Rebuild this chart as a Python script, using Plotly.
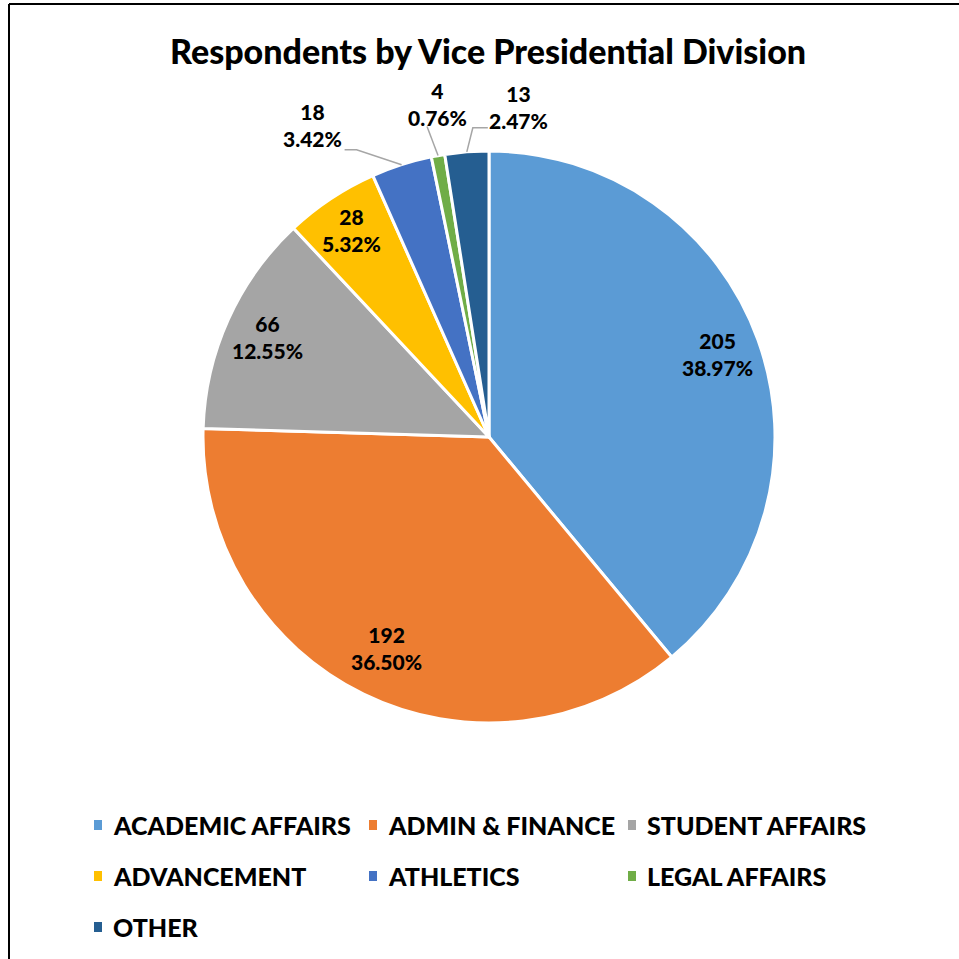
import math
import plotly.graph_objects as go

categories = ["ACADEMIC AFFAIRS", "ADMIN & FINANCE", "STUDENT AFFAIRS", "ADVANCEMENT",
              "ATHLETICS", "LEGAL AFFAIRS", "OTHER"]
counts = [205, 192, 66, 28, 18, 4, 13]
colors = ["#5B9BD5", "#ED7D31", "#A5A5A5", "#FFC000", "#4472C4", "#70AD47", "#255E91"]
title_text = "Respondents by Vice Presidential Division"

W = H = 959
FONT = "Lato, 'Open Sans', sans-serif"
CX, CY, R = 489, 437, 286  # pixel geometry of pie (styling)

def px(x, y):
    return x / W, 1 - y / H

total = sum(counts)
pcts = [c / total * 100 for c in counts]

fig = go.Figure()
x0, y0 = px(CX - R, CY + R)
x1, y1 = px(CX + R, CY - R)
fig.add_trace(go.Pie(
    labels=categories, values=counts, sort=False, direction="clockwise", rotation=0,
    marker=dict(colors=colors, line=dict(color="white", width=3)),
    textinfo="none", hoverinfo="label+value+percent", showlegend=False,
    domain=dict(x=[x0, x1], y=[y0, y1]),
))

# label placement style: inside (radius fraction) or outside (pixel offset + leader path)
inside_frac = {0: 0.85, 1: 0.82, 2: 0.85, 3: 0.87}
outside_style = {
    4: dict(text_off=(-89, -40), path=[(0, 0), (-45, -15), (-57, -15)]),
    5: dict(text_off=(-1, -52), path=[(0, 0), (-11, -29)]),
    6: dict(text_off=(52, -45), path=[(0, 0), (6, -24), (21, -24)]),
}

annotations = []
shapes = []
cum = 0
for i, c in enumerate(counts):
    mid = (cum + c / 2) / total * 2 * math.pi
    cum += c
    txt = f"{c}<br>{pcts[i]:.2f}%"
    if i in inside_frac:
        f = inside_frac[i]
        lx = CX + f * R * math.sin(mid)
        ly = CY - f * R * math.cos(mid)
    else:
        ex = CX + R * math.sin(mid)
        ey = CY - R * math.cos(mid)
        st = outside_style[i]
        lx, ly = ex + st["text_off"][0], ey + st["text_off"][1]
        pts = [px(ex + dx, ey + dy) for dx, dy in st["path"]]
        path = "M " + " L ".join(f"{a:.5f},{b:.5f}" for a, b in pts)
        shapes.append(dict(type="path", xref="paper", yref="paper", path=path,
                           line=dict(color="#A6A6A6", width=1.5)))
    ax_, ay_ = px(lx, ly)
    annotations.append(dict(x=ax_, y=ay_, xref="paper", yref="paper", text=txt,
                            showarrow=False, xanchor="center", yanchor="middle",
                            font=dict(family=FONT, size=21, color="#000000", weight=900)))

# legend built as annotations (3 columns)
col_x = [98, 373, 632]
row_y = [825, 876, 927]
for i, (name, col) in enumerate(zip(categories, colors)):
    cx = col_x[i % 3]
    cy = row_y[i // 3]
    sx0, sy0 = px(cx - 4, cy - 5)
    sx1, sy1 = px(cx + 4, cy + 5)
    shapes.append(dict(type="rect", xref="paper", yref="paper", x0=sx0, y0=sy0, x1=sx1, y1=sy1,
                       fillcolor=col, line=dict(width=0)))
    tx, ty = px(cx + 13, cy)
    annotations.append(dict(x=tx, y=ty, xref="paper", yref="paper", text=name,
                            showarrow=False, xanchor="left", yanchor="middle",
                            font=dict(family=FONT, size=25, color="#000000", weight=900)))

# title
tx, ty = px(488, 50)
annotations.append(dict(x=tx, y=ty, xref="paper", yref="paper", text=title_text,
                        showarrow=False, xanchor="center", yanchor="middle",
                        font=dict(family=FONT, size=34, color="#000000", weight=900)))

# frame lines (left and top edges)
bx, by = px(9, 4)
shapes.append(dict(type="line", xref="paper", yref="paper", x0=bx, x1=bx, y0=0, y1=by,
                   line=dict(color="#000000", width=2)))
shapes.append(dict(type="line", xref="paper", yref="paper", x0=bx, x1=1.01, y0=by, y1=by,
                   line=dict(color="#000000", width=2)))

fig.update_layout(
    width=W, height=H, margin=dict(l=0, r=0, t=0, b=0),
    paper_bgcolor="white", plot_bgcolor="white",
    annotations=annotations, shapes=shapes, showlegend=False,
)
fig.write_html("out.html")
